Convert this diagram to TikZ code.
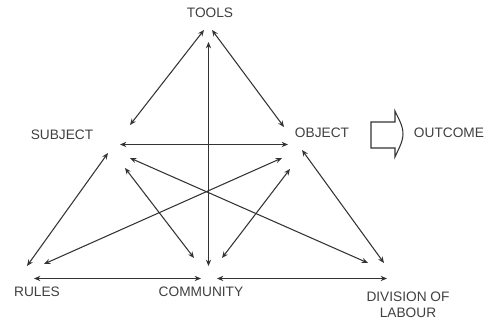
\documentclass[tikz,border=0pt]{standalone}
\usepackage{fontspec}
\setmainfont{Liberation Sans}
\usepackage{tikz}
\usetikzlibrary{arrows.meta}

\begin{document}
\begin{tikzpicture}[x=0.02cm, y=-0.02cm, every node/.style={font=\fontsize{7.8}{9}\selectfont, text=black!75}, lbl/.style={inner sep=0pt, align=center}, arr/.style={arrows={Stealth[length=3.6pt, width=3pt]-Stealth[length=3.6pt, width=3pt]}, line width=0.6pt, draw=black!80}]
\useasboundingbox (0,0) rectangle (485,320);
\node[lbl] (tools) at (210,13) {TOOLS};
\node[lbl] (subject) at (62,135) {SUBJECT};
\node[lbl] (object) at (322,133) {OBJECT};
\node[lbl] (outcome) at (449,133) {OUTCOME};
\node[lbl] (rules) at (37,292) {RULES};
\node[lbl] (community) at (201,292) {COMMUNITY};
\node[lbl] (division) at (408,305) {DIVISION OF\\LABOUR};
% arrow ends
\coordinate (t-s) at (204,30); \coordinate (t-o) at (212,30); \coordinate (t-c) at (208.5,42);
\coordinate (s-t) at (130,125); \coordinate (s-o) at (120,144.5); \coordinate (s-r) at (108,153); \coordinate (s-d) at (130,158); \coordinate (s-c) at (125,168);
\coordinate (o-t) at (284,127); \coordinate (o-s) at (288,144.5); \coordinate (o-r) at (282,158); \coordinate (o-d) at (302,150); \coordinate (o-c) at (290,169);
\coordinate (r-s) at (27,266); \coordinate (r-o) at (44,264); \coordinate (r-c) at (34,278.5);
\coordinate (c-s) at (194,258); \coordinate (c-t) at (208.5,266); \coordinate (c-o) at (222,258); \coordinate (c-r) at (201,278.5); \coordinate (c-d) at (217,278.5);
\coordinate (d-s) at (368,263); \coordinate (d-o) at (384,263); \coordinate (d-c) at (387,278.5);
\draw[arr] (t-s) -- (s-t); \draw[arr] (t-o) -- (o-t); \draw[arr] (t-c) -- (c-t);
\draw[arr] (s-o) -- (o-s); \draw[arr] (s-r) -- (r-s); \draw[arr] (s-c) -- (c-s); \draw[arr] (s-d) -- (d-s);
\draw[arr] (o-r) -- (r-o); \draw[arr] (o-c) -- (c-o); \draw[arr] (o-d) -- (d-o);
\draw[arr] (r-c) -- (c-r); \draw[arr] (c-d) -- (d-c);
% outcome arrow
\draw[line width=0.6pt, draw=black!80] (371,122) -- (395,122) -- (395,111) .. controls (398,118) and (403,125) .. (403,134) .. controls (403,142) and (398,150) .. (395,157) -- (395,148) -- (371,148) -- cycle;
\end{tikzpicture}
\end{document}
